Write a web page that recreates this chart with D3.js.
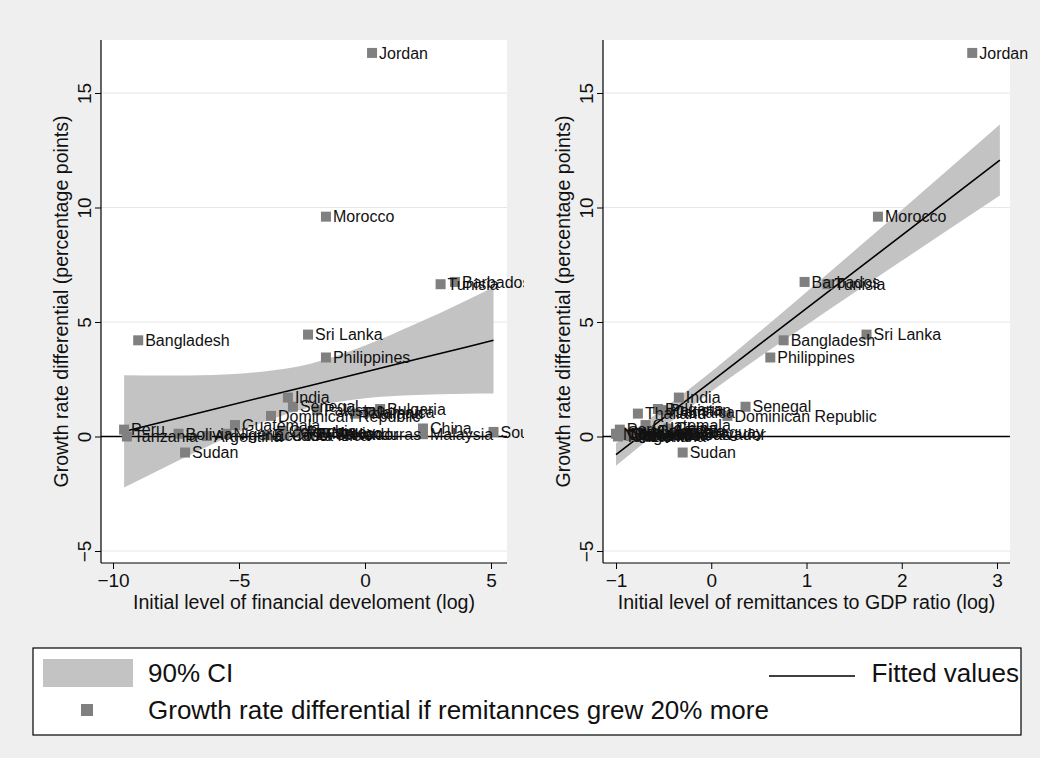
<!DOCTYPE html>
<html>
<head>
<meta charset="utf-8">
<script src="https://cdn.jsdelivr.net/npm/d3@7"></script>
<style>
  html, body { margin: 0; padding: 0; background: #efefef; }
  svg { display: block; font-family: "Liberation Sans", Arial, Helvetica, sans-serif; }
</style>
</head>
<body>
<svg id="chart" width="1040" height="758"></svg>
<script>
// ---------------- DATA ----------------
const countries = ["Jordan","Morocco","Barbados","Tunisia","Sri Lanka","Bangladesh","Philippines","India",
  "Senegal","Pakistan","Bulgaria","Jamaica","Thailand","Dominican Republic","Guatemala","Peru","Tanzania",
  "Bolivia","Argentina","Ecuador","Honduras","China","Malaysia","South Africa","Sudan","Paraguay",
  "El Salvador","Mexico","Costa Rica","Nigeria","Colombia"];
const growthDiff = [16.75, 9.6, 6.75, 6.65, 4.45, 4.2, 3.45, 1.7,
  1.3, 1.15, 1.2, 1.05, 1.0, 0.9, 0.5, 0.3, 0.0,
  0.12, 0.02, 0.05, 0.12, 0.35, 0.1, 0.2, -0.7, 0.17,
  0.1, 0.15, 0.05, 0.12, 0.25];
const finDev = [0.28, -1.55, 3.57, 3.0, -2.26, -9.0, -1.55, -3.06,
  -2.86, -1.9, 0.6, 0.12, -0.4, -3.73, -5.16, -9.56, -9.45,
  -7.4, -6.27, -3.9, -0.8, 2.3, 2.3, 5.1, -7.14, -2.6,
  -2.2, -1.6, -3.2, -5.5, -3.3];
const remitGDP = [2.74, 1.75, 0.98, 1.22, 1.63, 0.76, 0.62, -0.34,
  0.36, -0.51, -0.56, -0.45, -0.77, 0.17, -0.69, -0.96, -0.98,
  -0.88, -0.85, -0.75, -0.6, -0.45, -0.92, -0.95, -0.3, -0.24,
  -0.36, -0.8, -0.92, -1.0, -0.64];

const yTicks = [-5, 0, 5, 10, 15];
const xTicksFin = [-10, -5, 0, 5];
const xTicksRem = [-1, 0, 1, 2, 3];

// fitted values and 90% CI
const ciFinX  = [-9.56, -8, -6, -4, -2.2, 0, 2, 4, 5.1];
const fitFinY = [0.22, 0.64, 1.19, 1.74, 2.22, 2.82, 3.36, 3.90, 4.20];
const ciFinLo = [-2.23, -1.38, -0.31, 0.64, 1.27, 1.67, 1.81, 1.87, 1.88];
const ciFinHi = [2.67, 2.66, 2.69, 2.84, 3.17, 3.97, 4.91, 5.93, 6.52];

const ciRemX  = [-1, -0.5, 0, 0.5, 1, 1.5, 2, 2.5, 3.03];
const fitRemY = [-0.79, 0.81, 2.4, 4.0, 5.59, 7.19, 8.78, 10.38, 12.07];
const ciRemLo = [-1.28, 0.40, 1.97, 3.45, 4.87, 6.28, 7.67, 9.06, 10.52];
const ciRemHi = [-0.30, 1.22, 2.83, 4.55, 6.31, 8.10, 9.89, 11.70, 13.62];

const xTitleFin = "Initial level of financial develoment (log)";
const xTitleRem = "Initial level of remittances to GDP ratio (log)";
const yTitle = "Growth rate differential (percentage points)";
const legendCI = "90% CI";
const legendFit = "Fitted values";
const legendPts = "Growth rate differential if remitannces grew 20% more";

// ---------------- DRAW ----------------
const svg = d3.select("#chart");
svg.append("rect").attr("width", 1040).attr("height", 758).attr("fill", "#efefef");

const BAND = "#c3c3c3", MARK = "#808080", TXT = "#111";
const fmt = d3.format("d");

const panels = [
  { xs: finDev, left: 101, right: 507, xdom: [-10, 5], xr: [113, 491], ticks: xTicksFin, title: xTitleFin,
    ciX: ciFinX, fit: fitFinY, lo: ciFinLo, hi: ciFinHi, clipR: 524, id: "c1" },
  { xs: remitGDP, left: 603, right: 1010, xdom: [-1, 3], xr: [616, 997], ticks: xTicksRem, title: xTitleRem,
    ciX: ciRemX, fit: fitRemY, lo: ciRemLo, hi: ciRemHi, clipR: 1040, id: "c2" }
];
const plotTop = 40, plotBottom = 563;
const y = d3.scaleLinear().domain([-5, 15]).range([551, 93]);

const defs = svg.append("defs");

panels.forEach(p => {
  const x = d3.scaleLinear().domain(p.xdom).range(p.xr);
  const g = svg.append("g");
  defs.append("clipPath").attr("id", p.id).append("rect")
    .attr("x", p.left).attr("y", 0).attr("width", p.clipR - p.left).attr("height", 640);

  // plot region
  g.append("rect").attr("x", p.left).attr("y", plotTop).attr("width", p.right - p.left)
    .attr("height", plotBottom - plotTop).attr("fill", "#fff");

  // grid
  g.selectAll(".grid").data(yTicks.filter(t => t !== 0)).join("line")
    .attr("x1", p.left).attr("x2", p.right).attr("y1", d => y(d)).attr("y2", d => y(d))
    .attr("stroke", "#e6e6e6").attr("stroke-width", 1);

  // CI band
  const idx = d3.range(p.ciX.length);
  g.append("path").datum(idx)
    .attr("d", d3.area().x(i => x(p.ciX[i])).y0(i => y(p.lo[i])).y1(i => y(p.hi[i])).curve(d3.curveMonotoneX))
    .attr("fill", BAND);

  // zero line
  g.append("line").attr("x1", p.left).attr("x2", p.right).attr("y1", y(0)).attr("y2", y(0))
    .attr("stroke", "#000").attr("stroke-width", 1.3);

  // fitted line
  g.append("path").datum(idx)
    .attr("d", d3.line().x(i => x(p.ciX[i])).y(i => y(p.fit[i])))
    .attr("fill", "none").attr("stroke", "#000").attr("stroke-width", 1.6);

  // markers
  const pts = d3.range(countries.length);
  const ms = 10;
  g.selectAll(".m").data(pts).join("rect")
    .attr("x", i => x(p.xs[i]) - ms / 2).attr("y", i => y(growthDiff[i]) - ms / 2)
    .attr("width", ms).attr("height", ms).attr("fill", MARK);

  // labels
  g.append("g").attr("clip-path", `url(#${p.id})`)
    .selectAll("text").data(pts).join("text")
    .attr("x", i => x(p.xs[i]) + 7).attr("y", i => y(growthDiff[i])).attr("dy", "0.36em")
    .attr("font-size", 16).attr("fill", TXT).text(i => countries[i]);

  // axes lines
  g.append("line").attr("x1", p.left).attr("x2", p.left).attr("y1", plotTop).attr("y2", plotBottom)
    .attr("stroke", "#000").attr("stroke-width", 1.2);
  g.append("line").attr("x1", p.left).attr("x2", p.right).attr("y1", plotBottom).attr("y2", plotBottom)
    .attr("stroke", "#000").attr("stroke-width", 1.2);

  // y axis
  const ya = g.append("g").attr("transform", `translate(${p.left},0)`)
    .call(d3.axisLeft(y).tickValues(yTicks).tickFormat(fmt).tickSize(6).tickSizeOuter(0));
  ya.select(".domain").remove();
  ya.selectAll("line").attr("stroke", "#000");
  ya.selectAll("text").attr("x", null).attr("dy", null)
    .attr("transform", "translate(-10,0) rotate(-90)").attr("text-anchor", "middle")
    .attr("font-size", 19).attr("font-family", null).attr("fill", TXT);

  // x axis
  const xa = g.append("g").attr("transform", `translate(0,${plotBottom})`)
    .call(d3.axisBottom(x).tickValues(p.ticks).tickFormat(fmt).tickSize(6).tickSizeOuter(0));
  xa.select(".domain").remove();
  xa.selectAll("line").attr("stroke", "#000");
  xa.selectAll("text").attr("y", 11).attr("font-size", 19).attr("font-family", null).attr("fill", TXT);

  // titles
  g.append("text").attr("x", (p.left + p.right) / 2).attr("y", 609).attr("text-anchor", "middle")
    .attr("font-size", 19.6).attr("fill", TXT).text(p.title);
  g.append("text").attr("transform", `translate(${p.left - 33},${(plotTop + plotBottom) / 2}) rotate(-90)`)
    .attr("text-anchor", "middle").attr("font-size", 19.6).attr("fill", TXT).text(yTitle);
});

// legend
const lg = svg.append("g");
lg.append("rect").attr("x", 33).attr("y", 648).attr("width", 988).attr("height", 87)
  .attr("fill", "#fff").attr("stroke", "#000").attr("stroke-width", 1.2);
lg.append("rect").attr("x", 43).attr("y", 659).attr("width", 90).attr("height", 28).attr("fill", BAND);
lg.append("text").attr("x", 148).attr("y", 682).attr("font-size", 26).attr("fill", TXT).text(legendCI);
lg.append("line").attr("x1", 769).attr("x2", 855).attr("y1", 676).attr("y2", 676)
  .attr("stroke", "#000").attr("stroke-width", 1.6);
lg.append("text").attr("x", 1019).attr("y", 682).attr("text-anchor", "end").attr("font-size", 26)
  .attr("fill", TXT).text(legendFit);
lg.append("rect").attr("x", 81).attr("y", 704).attr("width", 12).attr("height", 12).attr("fill", MARK);
lg.append("text").attr("x", 148).attr("y", 719).attr("font-size", 26).attr("fill", TXT).text(legendPts);
</script>
</body>
</html>
